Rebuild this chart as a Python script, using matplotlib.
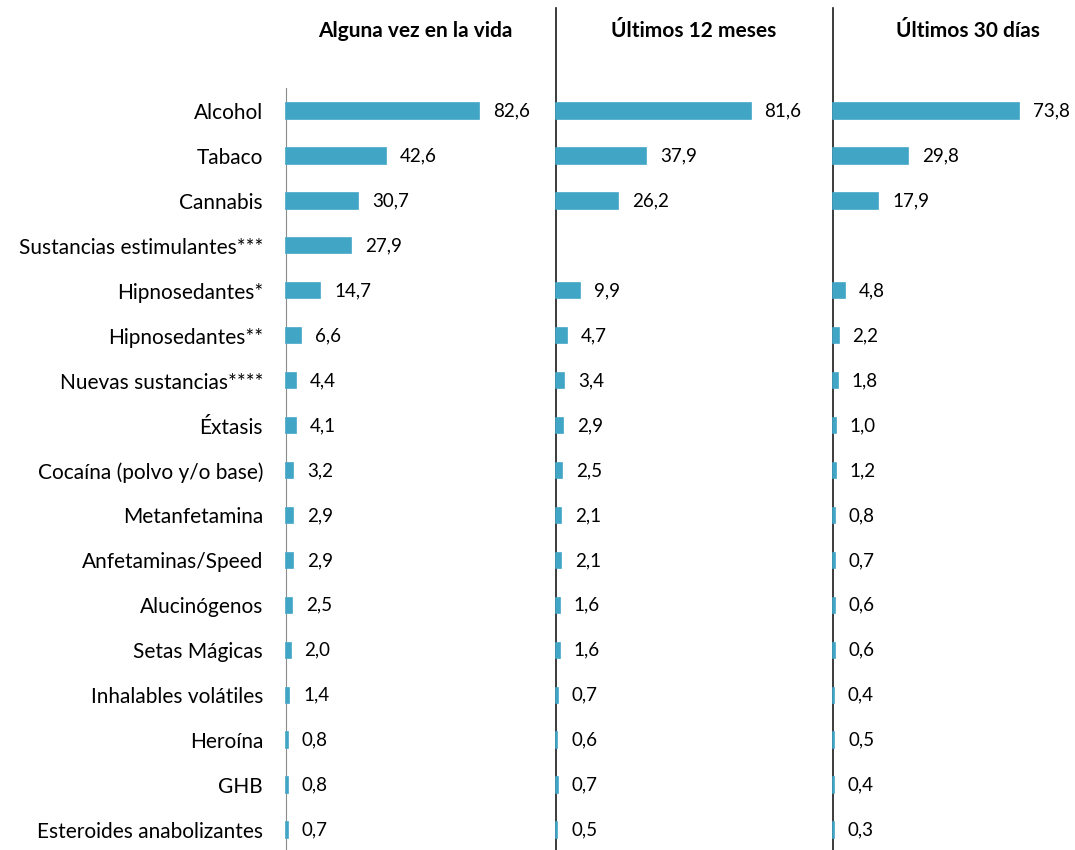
import matplotlib.pyplot as plt
from matplotlib.lines import Line2D

plt.rcParams['font.family'] = ['Lato', 'DejaVu Sans']

# Data
categories = ['Alcohol', 'Tabaco', 'Cannabis', 'Sustancias estimulantes***',
              'Hipnosedantes*', 'Hipnosedantes**', 'Nuevas sustancias****',
              'Éxtasis', 'Cocaína (polvo y/o base)', 'Metanfetamina',
              'Anfetaminas/Speed', 'Alucinógenos', 'Setas Mágicas',
              'Inhalables volátiles', 'Heroína', 'GHB', 'Esteroides anabolizantes']
vida = [82.6, 42.6, 30.7, 27.9, 14.7, 6.6, 4.4, 4.1, 3.2, 2.9, 2.9, 2.5, 2.0, 1.4, 0.8, 0.8, 0.7]
meses12 = [81.6, 37.9, 26.2, None, 9.9, 4.7, 3.4, 2.9, 2.5, 2.1, 2.1, 1.6, 1.6, 0.7, 0.6, 0.7, 0.5]
dias30 = [73.8, 29.8, 17.9, None, 4.8, 2.2, 1.8, 1.0, 1.2, 0.8, 0.7, 0.6, 0.6, 0.4, 0.5, 0.4, 0.3]
titles = ['Alguna vez en la vida', 'Últimos 12 meses', 'Últimos 30 días']

W, H = 1075, 850
fig = plt.figure(figsize=(W / 100, H / 100), dpi=100)

bar_color = '#41A6C6'
# pixel layout: (left, width, xmax)
panels = [(286, 260, 260 / 2.34), (556, 270, 270 / 2.385), (833, 240, 240 / 2.52)]
series = [vida, meses12, dias30]
title_x = [415, 694, 968]

ax_top, ax_bot = 88, 850
ypos = list(range(len(categories)))

for i, ((x0, w, xmax), vals) in enumerate(zip(panels, series)):
    if i > 0:
        fig.add_artist(Line2D([x0 / W, x0 / W], [0, (H - 8) / H], color='#1a1a1a', lw=1.2))
    ax = fig.add_axes([x0 / W, (H - ax_bot) / H, w / W, (ax_bot - ax_top) / H])
    ax.set_zorder(2)
    ax.patch.set_alpha(0)
    for y, v in zip(ypos, vals):
        if v is None:
            continue
        ax.barh(y, v, height=0.34, color=bar_color, edgecolor=bar_color,
                linewidth=1.2, zorder=3, clip_on=False)
        ax.annotate(f'{v:.1f}'.replace('.', ','), (v, y), xytext=(10, 0),
                    textcoords='offset points', ha='left', va='center', fontsize=13.5)
    ax.set_xlim(0, xmax)
    ax.set_ylim(16.445, -0.512)
    ax.set_xticks([])
    for s in ['top', 'right', 'bottom']:
        ax.spines[s].set_visible(False)
    if i == 0:
        ax.spines['left'].set_color('#8c8c8c')
        ax.spines['left'].set_zorder(1)
        ax.set_yticks(ypos)
        ax.set_yticklabels(categories, fontsize=15)
        ax.tick_params(axis='y', length=0, pad=16.5)
    else:
        ax.spines['left'].set_visible(False)
        ax.set_yticks([])
    fig.text(title_x[i] / W, (H - 31) / H, titles[i], ha='center', va='center',
             fontsize=15, fontweight='bold')

fig.savefig('out.png', dpi=100)
